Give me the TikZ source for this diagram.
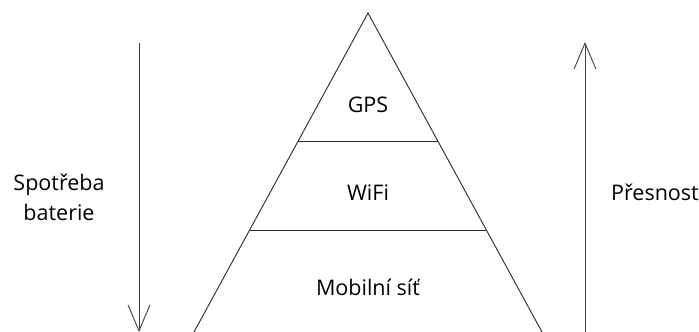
\documentclass[tikz,border=0pt]{standalone}
\usepackage{fontspec}
\setmainfont{Open Sans}
\usetikzlibrary{arrows.meta}

\begin{document}
\begin{tikzpicture}[
  x=1pt, y=1pt,
  font=\fontsize{21.5}{30}\selectfont,
  edge/.style  = {draw=black!85, line width=0.9pt},
  trend/.style = {-{Straight Barb[length=26pt, width=22pt]}, draw=black!75, line width=0.9pt},
  lbl/.style   = {inner sep=1pt, align=center},
]
\useasboundingbox (0,0) rectangle (699,332);

% Pyramid outline and layer dividers
\draw[edge] (194,0) -- (368,319) -- (542,0);
\draw[edge] (298,191) -- (438,191);
\draw[edge] (250,102) -- (486,102);

% Layer labels
\node[lbl] (gps)  at (368,227) {GPS};
\node[lbl] (wifi) at (368,139) {WiFi};
\node[lbl] (cell) at (368,45)  {Mobilní síť};

% Side arrows
\coordinate (batTop) at (139,289);
\coordinate (batBot) at (139,0);
\coordinate (accBot) at (585,0);
\coordinate (accTop) at (585,290);
\draw[trend] (batTop) -- (batBot);
\draw[trend] (accBot) -- (accTop);

\node[lbl] (bat) at (59,135)  {Spotřeba\\baterie};
\node[lbl] (acc) at (655,140) {Přesnost};
\end{tikzpicture}
\end{document}
